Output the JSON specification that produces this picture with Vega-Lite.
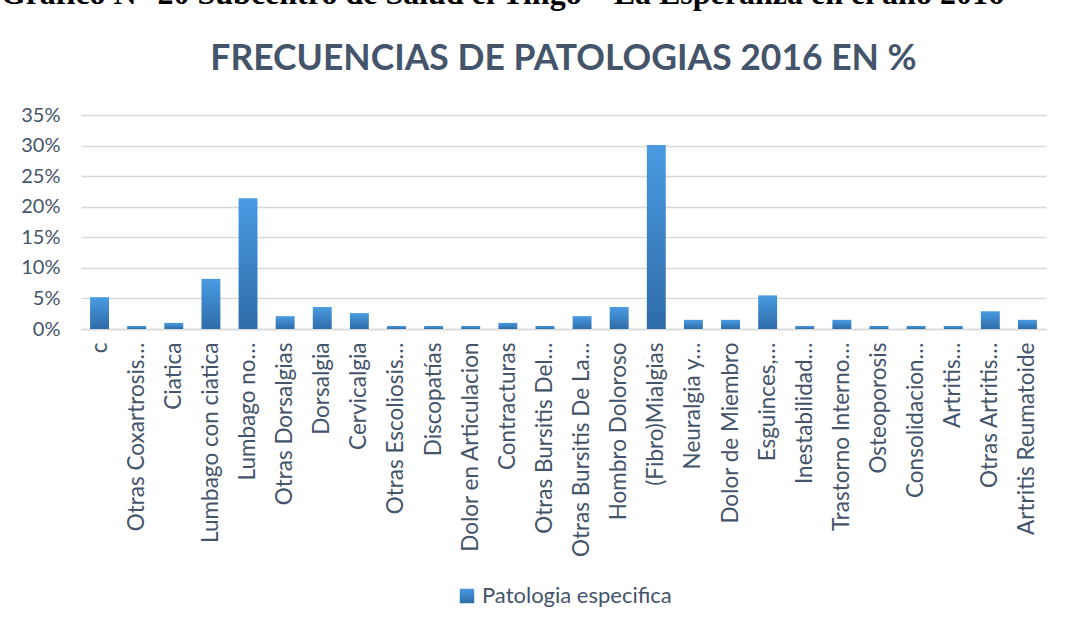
{
  "$schema": "https://vega.github.io/schema/vega-lite/v6.json",
  "padding": {"top": -23, "left": 0, "right": 10, "bottom": 5},
  "background": "white",
  "title": {
    "text": "Gráfico N° 20 Subcentro de Salud el Tingo – La Esperanza en el año 2016",
    "font": "Liberation Serif",
    "fontWeight": "bold",
    "fontSize": 32,
    "color": "#000000",
    "anchor": "start",
    "frame": "bounds",
    "offset": 31,
    "dx": -20
  },
  "data": {
    "values": [
      {"patologia": "c", "pct": 0.052},
      {"patologia": "Otras Coxartrosis…", "pct": 0.005},
      {"patologia": "Ciatica", "pct": 0.010},
      {"patologia": "Lumbago con ciatica", "pct": 0.082},
      {"patologia": "Lumbago no…", "pct": 0.214},
      {"patologia": "Otras Dorsalgias", "pct": 0.021},
      {"patologia": "Dorsalgia", "pct": 0.036},
      {"patologia": "Cervicalgia", "pct": 0.026},
      {"patologia": "Otras Escoliosis…", "pct": 0.005},
      {"patologia": "Discopatías", "pct": 0.005},
      {"patologia": "Dolor en Articulacion", "pct": 0.005},
      {"patologia": "Contracturas", "pct": 0.010},
      {"patologia": "Otras Bursitis Del…", "pct": 0.005},
      {"patologia": "Otras Bursitis De La…", "pct": 0.021},
      {"patologia": "Hombro Doloroso", "pct": 0.036},
      {"patologia": "(Fibro)Mialgias", "pct": 0.301},
      {"patologia": "Neuralgia y…", "pct": 0.015},
      {"patologia": "Dolor de Miembro", "pct": 0.015},
      {"patologia": "Esguinces,…", "pct": 0.055},
      {"patologia": "Inestabilidad…", "pct": 0.005},
      {"patologia": "Trastorno Interno…", "pct": 0.015},
      {"patologia": "Osteoporosis", "pct": 0.005},
      {"patologia": "Consolidacion…", "pct": 0.005},
      {"patologia": "Artritis…", "pct": 0.005},
      {"patologia": "Otras Artritis…", "pct": 0.029},
      {"patologia": "Artritis Reumatoide", "pct": 0.015}
    ]
  },
  "vconcat": [
    {
      "width": 965,
      "height": 214,
      "title": {
        "text": "FRECUENCIAS DE PATOLOGIAS 2016 EN %",
        "font": "Lato",
        "fontWeight": "bold",
        "fontSize": 35.5,
        "color": "#44546A",
        "anchor": "middle",
        "frame": "group",
        "offset": 28
      },
      "mark": {
        "type": "bar",
        "color": {
          "gradient": "linear",
          "x1": 0, "y1": 0, "x2": 0, "y2": 1,
          "stops": [
            {"offset": 0, "color": "#4A9BE3"},
            {"offset": 1, "color": "#2E6CA8"}
          ]
        }
      },
      "encoding": {
        "x": {
          "field": "patologia",
          "type": "nominal",
          "sort": null,
          "scale": {"paddingInner": 0.49, "paddingOuter": 0.245},
          "axis": {
            "title": null,
            "labelAngle": -90,
            "labelFont": "Lato",
            "labelFontSize": 22.5,
            "labelColor": "#44546A",
            "labelPadding": 13,
            "ticks": false,
            "domain": true,
            "domainColor": "#D9D9D9",
            "domainWidth": 1.5,
            "labelLimit": 400
          }
        },
        "y": {
          "field": "pct",
          "type": "quantitative",
          "scale": {"domain": [0, 0.35]},
          "axis": {
            "title": null,
            "values": [0, 0.05, 0.1, 0.15, 0.2, 0.25, 0.3, 0.35],
            "format": ".0%",
            "labelFont": "Lato",
            "labelFontSize": 20,
            "labelColor": "#44546A",
            "labelPadding": 21,
            "ticks": false,
            "domain": false,
            "grid": true,
            "gridColor": "#D9D9D9",
            "gridWidth": 1.5
          }
        },
        "opacity": {
          "datum": "Patologia especifica",
          "type": "nominal",
          "scale": {"range": [1]},
          "legend": {
            "title": null,
            "orient": "bottom",
            "direction": "horizontal",
            "symbolType": "square",
            "symbolSize": 210,
            "symbolFillColor": "#3F86CC",
            "symbolStrokeWidth": 0,
            "labelFont": "Lato",
            "labelFontSize": 22,
            "labelColor": "#44546A",
            "labelLimit": 400,
            "offset": 28
          }
        }
      }
    }
  ],
  "config": {
    "view": {"stroke": null},
    "legend": {"layout": {"anchor": "middle"}}
  }
}
